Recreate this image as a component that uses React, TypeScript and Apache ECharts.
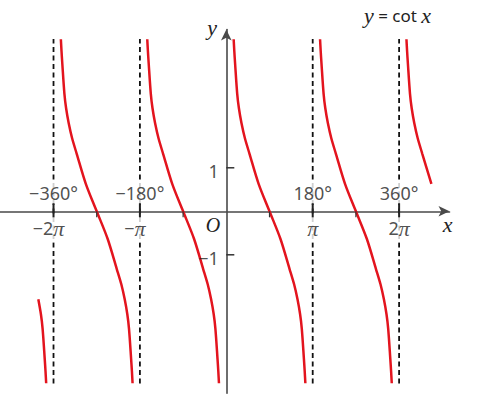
import React, { useEffect, useRef } from 'react';
import * as echarts from 'echarts';

// One branch of the drawn cotangent curve:
// offset (degrees) from the branch centre, and the y value there.
const branchOffsets = [-74.69, -73.33, -71.67, -67.29, -63.75, -58.33, -51.25, -41.67, -22.7, 0, 22.7, 41.67, 51.25, 58.33, 63.75, 67.29, 71.67, 73.33, 74.69];
const branchValues = [3.954, 3.678, 3.391, 2.701, 2.368, 2.023, 1.678, 1.322, 0.632, 0, -0.632, -1.322, -1.678, -2.023, -2.368, -2.701, -3.391, -3.678, -3.954];
const fullBranchCenters = [-270, -90, 90, 270];
const leftPartialCenter = -450;
const leftPartialRange = [13, 18];
const rightPartialCenter = 450;
const rightPartialRange = [0, 8];

const asymptotes = [-360, -180, 180, 360];
const degreeLabels = ['−360°', '−180°', '180°', '360°'];
const radianLabels = ['−2π', '−π', 'π', '2π'];
const halfTicks = [-270, -90, 90, 270];
const yTicks = [-1, 1];
const yTickLabels = ['−1', '1'];
const dashExtent = [-3.96, 3.96];

const X_MIN = -471.5;
const X_MAX = 465;
const Y_MIN = -4.184;
const Y_MAX = 4.179;

const RED = '#e3141e';
const SANS = '"Noto Sans", sans-serif';
const SERIF = '"Liberation Serif", serif';

function branchData(center: number, from: number, to: number) {
  const out: number[][] = [];
  for (let i = from; i <= to; i++) out.push([center + branchOffsets[i], branchValues[i]]);
  return out;
}

export default function App() {
  const ref = useRef<HTMLDivElement>(null);
  useEffect(() => {
    if (!ref.current) return;
    const chart = echarts.init(ref.current, undefined, { renderer: 'svg' });

    const curveSeries: any[] = [];
    const curveStyle = {
      type: 'line',
      showSymbol: false,
      symbol: 'none',
      smooth: 0.3,
      lineStyle: { color: RED, width: 2.5 },
      z: 3,
      silent: true,
    };
    fullBranchCenters.forEach((c) => {
      curveSeries.push({ ...curveStyle, data: branchData(c, 0, branchOffsets.length - 1) });
    });
    curveSeries.push({ ...curveStyle, data: branchData(leftPartialCenter, leftPartialRange[0], leftPartialRange[1]) });
    curveSeries.push({ ...curveStyle, data: branchData(rightPartialCenter, rightPartialRange[0], rightPartialRange[1]) });

    const dashSeries = asymptotes.map((a) => ({
      type: 'line',
      symbol: 'none',
      silent: true,
      z: 2,
      lineStyle: { color: '#111', width: 1.8, type: [5, 3.5] },
      data: [[a, dashExtent[0]], [a, dashExtent[1]]],
    }));

    const labelData: any[] = [];
    asymptotes.forEach((a, i) => {
      labelData.push({
        value: [a, 0],
        label: {
          show: true,
          position: 'inside',
          offset: [0, -18.5],
          formatter: degreeLabels[i],
          fontFamily: SANS,
          fontSize: 18,
          color: '#222',
          backgroundColor: '#fff',
          padding: [3, 2, 1, 2],
        },
      });
      const neg = radianLabels[i].startsWith('−');
      labelData.push({
        value: [a, 0],
        label: {
          show: true,
          position: 'inside',
          offset: [neg ? -5 : 0, 17.5],
          formatter: radianLabels[i].replace('π', '{p|π}'),
          fontFamily: SANS,
          fontSize: 18,
          color: '#222',
          backgroundColor: '#fff',
          padding: [2, 2, 3, 2],
          rich: { p: { fontFamily: SERIF, fontStyle: 'italic', fontSize: 22, color: '#222' } },
        },
      });
    });
    yTicks.forEach((v, i) => {
      labelData.push({
        value: [0, v],
        label: {
          show: true,
          position: 'left',
          distance: 7,
          offset: [0, 3],
          formatter: yTickLabels[i],
          fontFamily: SANS,
          fontSize: 18,
          color: '#222',
        },
      });
    });

    const option: any = {
      animation: false,
      backgroundColor: '#fff',
      grid: { left: 0, top: 29.5, width: 449.5, height: 363.8, containLabel: false },
      xAxis: {
        type: 'value',
        min: X_MIN,
        max: X_MAX,
        axisLine: {
          onZero: true,
          symbol: ['none', 'arrow'],
          symbolSize: [8, 11],
          lineStyle: { color: '#4a4a4a', width: 1.6 },
        },
        axisTick: { show: false },
        axisLabel: { show: false },
        splitLine: { show: false },
      },
      yAxis: {
        type: 'value',
        min: Y_MIN,
        max: Y_MAX,
        axisLine: {
          onZero: true,
          symbol: ['none', 'arrow'],
          symbolSize: [8, 11],
          lineStyle: { color: '#4a4a4a', width: 1.6 },
        },
        axisTick: { show: false },
        axisLabel: { show: false },
        splitLine: { show: false },
      },
      graphic: [
        {
          type: 'text',
          x: 447.5,
          y: 224.6,
          style: { text: 'x', font: `italic 22px ${SERIF}`, align: 'center', verticalAlign: 'middle', fill: '#222' },
        },
        {
          type: 'text',
          x: 212,
          y: 27.6,
          style: { text: 'y', font: `italic 22px ${SERIF}`, align: 'center', verticalAlign: 'middle', fill: '#222' },
        },
        {
          type: 'text',
          x: 213,
          y: 225,
          style: { text: 'O', font: `italic 20px ${SERIF}`, align: 'center', verticalAlign: 'middle', fill: '#222' },
        },
        {
          type: 'text',
          x: 364,
          y: 15,
          style: {
            text: '{i|y}{s| = cot }{i|x}',
            align: 'left',
            verticalAlign: 'middle',
            fill: '#222',
            rich: {
              i: { fontFamily: SERIF, fontStyle: 'italic', fontSize: 22, color: '#222' },
              s: { fontFamily: SANS, fontSize: 17, color: '#222' },
            },
          },
        },
      ],
      series: [
        ...dashSeries,
        ...curveSeries,
        {
          type: 'custom',
          silent: true,
          z: 6,
          data: asymptotes.map((a) => [a, 0]),
          renderItem: (_p: any, api: any) => {
            const pt = api.coord([api.value(0), 0]);
            return {
              type: 'line',
              shape: { x1: pt[0], y1: pt[1] - 8, x2: pt[0], y2: pt[1] + 6 },
              style: { stroke: '#222', lineWidth: 2 },
            };
          },
        },
        {
          type: 'custom',
          silent: true,
          z: 6,
          data: halfTicks.map((a) => [a, 0]),
          renderItem: (_p: any, api: any) => {
            const pt = api.coord([api.value(0), 0]);
            return {
              type: 'line',
              shape: { x1: pt[0], y1: pt[1], x2: pt[0], y2: pt[1] + 6 },
              style: { stroke: '#333', lineWidth: 1.2 },
            };
          },
        },
        {
          type: 'custom',
          silent: true,
          z: 6,
          data: yTicks.map((v) => [0, v]),
          renderItem: (_p: any, api: any) => {
            const pt = api.coord([0, api.value(1)]);
            return {
              type: 'line',
              shape: { x1: pt[0], y1: pt[1], x2: pt[0] + 8, y2: pt[1] },
              style: { stroke: '#333', lineWidth: 1.5 },
            };
          },
        },
        {
          type: 'scatter',
          silent: true,
          z: 5,
          symbolSize: 1,
          itemStyle: { color: 'rgba(0,0,0,0)' },
          data: labelData,
        },
      ],
    };
    chart.setOption(option);
    return () => chart.dispose();
  }, []);
  return (
    <div
      ref={ref}
      style={{ position: 'absolute', left: 0, top: 0, width: 488, height: 401, background: '#fff' }}
    />
  );
}
